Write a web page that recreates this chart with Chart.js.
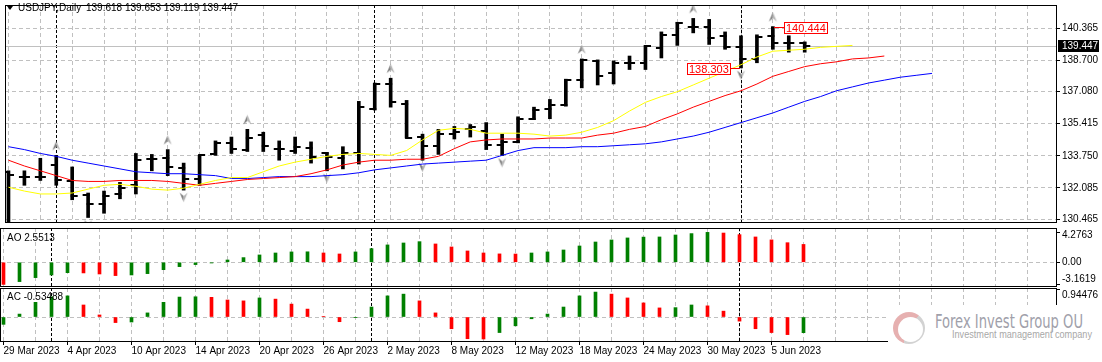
<!DOCTYPE html>
<html>
<head>
<meta charset="utf-8">
<script src="https://cdn.jsdelivr.net/npm/chart.js@4.4.0/dist/chart.umd.min.js"></script>
<style>
body { margin:0; background:#fff; width:1102px; height:362px; overflow:hidden; position:relative; font-family:"Liberation Sans", Arial, sans-serif; }
canvas { position:absolute; left:0; }
#cMain { top:0; }
#cAO { top:222px; }
#cAC { top:282px; }
.txt { position:absolute; font-size:10px; line-height:12px; color:#000; white-space:pre; }
#tri { position:absolute; left:7px; top:6px; width:0; height:0; border-left:3px solid transparent; border-right:3px solid transparent; border-top:4px solid #000; }
#wm { position:absolute; left:888px; top:305px; width:214px; height:57px; background:#fff; }
#logo { position:absolute; left:893px; top:312px; width:32px; height:32px; border-radius:50%; background:conic-gradient(from 200deg, #e6b0b0 0 55%, #d2d2d2 55% 100%); }
#logoIn { position:absolute; left:898px; top:317px; width:25px; height:25px; border-radius:50%; background:#fff; }
#wm1 { position:absolute; left:935px; top:310px; font-size:20px; line-height:23px; color:#a0a0aa; font-family:"Liberation Sans Narrow","DejaVu Sans Condensed",sans-serif; transform-origin:0 0; white-space:nowrap; }
#wm2 { position:absolute; left:952px; top:329px; font-size:10px; line-height:12px; color:#a8a8a8; transform-origin:0 0; white-space:nowrap; }
</style>
</head>
<body>
<canvas id="cMain" width="1102" height="228"></canvas>
<canvas id="cAO" width="1102" height="71"></canvas>
<canvas id="cAC" width="1102" height="80"></canvas>
<div id="tri"></div>
<div class="txt" id="ttl" style="left:18px;top:2px;">USDJPY,Daily</div>
<div class="txt" id="ttlv" style="left:86px;top:2px;"></div>
<div class="txt" id="aoLbl" style="left:7px;top:232px;"></div>
<div class="txt" id="acLbl" style="left:7px;top:291px;"></div>
<div id="wm"></div>
<div id="logo"></div>
<div id="logoIn"></div>
<div id="wm1">Forex Invest Group OU</div>
<div id="wm2">Investment management company</div>
<script>
// USDJPY daily bars, 29 Mar - 7 Jun 2023
var dates = ["29 Mar 2023","30 Mar 2023","31 Mar 2023","3 Apr 2023","4 Apr 2023","5 Apr 2023","6 Apr 2023","7 Apr 2023",
  "10 Apr 2023","11 Apr 2023","12 Apr 2023","13 Apr 2023","14 Apr 2023","17 Apr 2023","18 Apr 2023","19 Apr 2023",
  "20 Apr 2023","21 Apr 2023","24 Apr 2023","25 Apr 2023","26 Apr 2023","27 Apr 2023","28 Apr 2023","1 May 2023",
  "2 May 2023","3 May 2023","4 May 2023","5 May 2023","8 May 2023","9 May 2023","10 May 2023","11 May 2023",
  "12 May 2023","15 May 2023","16 May 2023","17 May 2023","18 May 2023","19 May 2023","22 May 2023","23 May 2023",
  "24 May 2023","25 May 2023","26 May 2023","29 May 2023","30 May 2023","31 May 2023","1 Jun 2023","2 Jun 2023",
  "5 Jun 2023","6 Jun 2023","7 Jun 2023"];

var opens = [132.92,132.67,132.67,133.27,132.42,131.72,131.27,131.77,132.22,133.57,
  133.62,133.12,132.52,133.82,134.42,134.07,134.82,134.12,134.02,134.17,
  133.87,133.62,133.87,136.17,137.47,136.42,134.72,134.27,134.87,135.12,
  135.02,134.32,134.47,135.67,136.17,136.37,137.67,138.67,138.02,138.57,
  138.57,139.32,140.02,140.42,140.42,139.97,139.37,138.77,139.97,139.57,
  139.618];
var highs = [132.97,132.97,133.62,133.77,133.17,131.82,131.92,132.37,133.87,133.82,
  134.07,133.37,133.77,134.52,134.72,135.12,134.97,134.52,134.72,134.47,
  133.92,134.22,136.57,137.52,137.77,136.62,134.87,135.12,135.27,135.37,
  135.47,134.87,135.77,136.27,136.67,137.72,138.77,138.72,138.67,138.92,
  139.47,140.17,140.67,140.87,140.82,140.17,139.97,140.02,140.444,139.97,
  139.653];
var lows = [130.20,132.22,132.47,132.22,131.47,130.55,130.77,131.52,131.77,132.97,
  132.72,131.97,132.22,133.77,133.87,133.97,133.97,133.52,133.87,133.37,
  132.97,133.07,133.32,136.12,136.27,134.67,133.52,133.82,134.62,134.72,
  134.07,133.77,134.42,135.62,135.67,136.32,137.27,137.42,137.47,138.22,
  138.22,138.82,139.47,140.12,139.52,139.27,138.303,138.57,139.27,139.12,
  139.119];
var closes = [132.77,132.67,132.67,132.47,131.67,131.27,131.67,132.07,133.52,133.57,
  133.17,132.57,133.77,134.42,134.12,134.67,134.27,134.12,134.22,133.67,
  133.67,133.87,136.27,137.47,136.52,134.67,134.27,134.87,134.97,135.22,
  134.32,134.47,135.67,136.12,136.37,137.67,138.72,137.87,138.57,138.57,
  139.42,140.02,140.62,140.42,139.87,139.37,138.77,139.92,139.57,139.57,
  139.447];

// alligator lines, already shifted forward (blue 8, red 5, yellow 3 bars)
var jaw = [134.22,134.07,133.87,133.72,133.52,133.37,133.22,133.07,132.92,132.87,
  132.82,132.82,132.77,132.72,132.57,132.57,132.62,132.67,132.67,132.67,
  132.72,132.77,132.87,133.02,133.12,133.22,133.32,133.37,133.42,133.47,
  133.52,133.77,134.02,134.17,134.17,134.17,134.22,134.22,134.27,134.32,
  134.37,134.47,134.62,134.77,134.97,135.22,135.47,135.72,135.97,136.27,
  136.57,136.82,137.12,137.32,137.52,137.67,137.82,137.92,138.02];
var teeth = [133.52,133.22,132.97,132.72,132.47,132.42,132.42,132.47,132.47,132.47,
  132.42,132.32,132.22,132.32,132.42,132.52,132.57,132.62,132.67,132.82,
  133.02,133.27,133.42,133.52,133.52,133.57,133.57,133.72,134.12,134.47,
  134.57,134.62,134.62,134.62,134.67,134.67,134.67,134.82,134.92,135.12,
  135.27,135.62,135.92,136.27,136.57,136.87,137.12,137.47,137.87,138.12,
  138.37,138.52,138.62,138.77,138.82,138.92];
var lips = [132.12,131.92,131.77,131.77,131.82,132.02,132.22,132.27,132.17,132.02,
  131.97,132.07,132.27,132.47,132.62,132.62,132.92,133.22,133.42,133.57,
  133.72,133.82,133.87,133.82,133.77,134.02,134.57,135.07,135.17,135.12,
  134.92,134.92,134.92,134.87,134.77,134.82,134.97,135.22,135.57,136.07,
  136.52,136.82,137.07,137.42,137.77,138.12,138.47,138.87,139.17,139.22,
  139.27,139.37,139.42,139.47];

var fractalUp = [3, 10, 15, 24, 36, 43, 48];
var fractalDown = [5, 11, 20, 26, 31, 46];
var markHigh = 48, markLow = 46;

var ao = [-3.1619,-2.76,-2.19,-1.81,-1.48,-1.52,-1.67,-1.90,-1.81,-1.62,
  -1.05,-0.62,-0.33,-0.10,0.33,0.67,1.05,1.33,1.48,1.50,
  1.33,1.19,1.48,1.95,2.48,2.76,2.95,2.62,2.19,1.62,
  1.33,1.20,1.18,1.33,1.48,1.76,2.33,2.90,3.19,3.48,
  3.60,3.62,3.90,4.10,4.2763,4.18,3.95,3.62,3.20,2.80,
  2.5513];
var aoPrev = -3.05;   // bar before the first visible one
var ac = [-0.25,0.10,0.50,0.69,0.72,0.41,0.07,-0.19,-0.17,0.14,
  0.50,0.68,0.69,0.67,0.58,0.55,0.65,0.61,0.44,0.27,
  0.02,-0.16,-0.01,0.34,0.72,0.78,0.55,0.14,-0.40,-0.74,
  -0.75,-0.53,-0.30,-0.06,0.10,0.34,0.72,0.85,0.78,0.65,
  0.48,0.31,0.32,0.41,0.38,0.20,-0.14,-0.40,-0.53,-0.60,
  -0.53488];
var acPrev = -0.30;

var priceTicks = [130.465, 132.085, 133.750, 135.415, 137.080, 138.700, 140.365];
var acTopTick = 0.94476;

var FONT = '"Liberation Sans", Arial, sans-serif';
Chart.defaults.font.family = FONT;
Chart.defaults.font.size = 10;
Chart.defaults.color = '#000';

var last = closes.length - 1;
var GREEN = '#008000', RED = '#ff0000', GRID = '#c0c0c0';

function pts(arr) { return arr.map(function(v, i) { return {x: i, y: v}; }); }

function monthStarts() {
  var r = [];
  for (var i = 1; i < dates.length; i++) {
    if (dates[i].split(' ')[1] !== dates[i - 1].split(' ')[1]) r.push(i);
  }
  return r;
}

function xAxis(showLabels) {
  return {
    type: 'linear', min: -0.21875, max: 65.84375, offset: false,
    afterBuildTicks: function(s) {
      var t = [];
      for (var v = 0; v <= 64; v += 2) t.push({value: v});
      s.ticks = t;
    },
    afterFit: function(s) { s.height = showLabels ? 20 : 0; s.paddingLeft = 0; s.paddingRight = 0; },
    grid: {
      color: GRID, offset: false, drawTicks: showLabels, tickLength: 3,
      tickColor: function(c) { return c.tick && c.tick.value % 4 === 0 && c.tick.value < dates.length ? '#000' : 'rgba(0,0,0,0)'; }
    },
    border: { display: false, dash: [4, 3] },
    ticks: {
      display: showLabels, autoSkip: false, maxRotation: 0, minRotation: 0, align: 'start', padding: 0,
      callback: function(v) { return (v % 4 === 0 && v < dates.length) ? dates[v] : ''; }
    }
  };
}

function yFit(s) { s.width = 45; s.paddingTop = 0; s.paddingBottom = 0; }

// pane frame + month separators
var panePlugin = {
  id: 'pane',
  beforeDatasetsDraw: function(chart) {
    var a = chart.chartArea, ctx = chart.ctx, xs = chart.scales.x;
    ctx.save();
    ctx.strokeStyle = '#000';
    ctx.lineWidth = 1;
    ctx.setLineDash([3, 2]);
    monthStarts().forEach(function(i) {
      var px = Math.floor(xs.getPixelForValue(i)) + 0.5;
      ctx.beginPath(); ctx.moveTo(px, a.top); ctx.lineTo(px, a.bottom); ctx.stroke();
    });
    ctx.restore();
  },
  afterDraw: function(chart) {
    var a = chart.chartArea, ctx = chart.ctx;
    ctx.save();
    ctx.strokeStyle = '#000';
    ctx.lineWidth = 1;
    ctx.strokeRect(a.left + 0.5, a.top + 0.5, a.right - a.left - 1, a.bottom - a.top - 1);
    ctx.restore();
  }
};

// open / close ticks
function tickImg(side) {
  var c = document.createElement('canvas');
  c.width = 15; c.height = 2;
  var g = c.getContext('2d');
  g.fillStyle = '#000';
  if (side === 'open') g.fillRect(2, 0, 7, 2); else g.fillRect(6, 0, 7, 2);
  return c;
}

// fractal arrows
function arrowImg(up) {
  var c = document.createElement('canvas');
  c.width = 11; c.height = 30;
  var g = c.getContext('2d');
  var tip, wing, notch;
  if (up) { tip = 0.5; wing = 10; notch = 6.5; } else { tip = 27; wing = 17.5; notch = 21; }
  g.fillStyle = '#7b7b7b';
  g.beginPath(); g.moveTo(5.5, tip); g.lineTo(1.5, wing); g.lineTo(5.5, notch); g.closePath(); g.fill();
  g.fillStyle = '#b4b4b4';
  g.beginPath(); g.moveTo(5.5, tip); g.lineTo(9.5, wing); g.lineTo(5.5, notch); g.closePath(); g.fill();
  return c;
}

function priceBox(ctx, text, x, y, toLeft) {
  ctx.font = '11px ' + FONT;
  var w = Math.round(ctx.measureText(text).width) + 4, h = 12;
  var bx = toLeft ? x - w : x, by = Math.round(y - h / 2);
  ctx.fillStyle = '#fff'; ctx.fillRect(bx, by, w, h);
  ctx.strokeStyle = RED; ctx.lineWidth = 1; ctx.strokeRect(bx + 0.5, by + 0.5, w - 1, h - 1);
  ctx.fillStyle = RED; ctx.textBaseline = 'middle'; ctx.textAlign = 'left';
  ctx.fillText(text, bx + 2, by + h / 2 + 0.5);
}

var pricePlugin = {
  id: 'price',
  beforeDatasetsDraw: function(chart) {
    var a = chart.chartArea, ctx = chart.ctx, ys = chart.scales.y;
    var py = Math.round(ys.getPixelForValue(closes[last])) + 0.5;
    ctx.save();
    ctx.strokeStyle = GRID; ctx.lineWidth = 1;
    ctx.beginPath(); ctx.moveTo(a.left, py); ctx.lineTo(a.right, py); ctx.stroke();
    ctx.restore();
  },
  afterDatasetsDraw: function(chart) {
    var ctx = chart.ctx, xs = chart.scales.x, ys = chart.scales.y;
    ctx.save();
    var hx = Math.round(xs.getPixelForValue(markHigh)), hy = Math.round(ys.getPixelForValue(highs[markHigh])) + 0.5;
    ctx.strokeStyle = RED; ctx.lineWidth = 1;
    ctx.beginPath(); ctx.moveTo(hx + 1, hy); ctx.lineTo(hx + 11, hy); ctx.stroke();
    priceBox(ctx, highs[markHigh].toFixed(3), hx + 11, hy, false);
    var lx = Math.round(xs.getPixelForValue(markLow)), ly = Math.round(ys.getPixelForValue(lows[markLow])) + 0.5;
    ctx.strokeStyle = RED;
    ctx.beginPath(); ctx.moveTo(lx - 1, ly); ctx.lineTo(lx - 10, ly); ctx.stroke();
    priceBox(ctx, lows[markLow].toFixed(3), lx - 10, ly, true);
    ctx.restore();
  },
  afterDraw: function(chart) {
    var a = chart.chartArea, ctx = chart.ctx, ys = chart.scales.y;
    var py = Math.round(ys.getPixelForValue(closes[last]));
    ctx.save();
    ctx.fillStyle = '#000';
    ctx.fillRect(a.right + 1, py - 6, 41, 12);
    ctx.fillStyle = '#fff';
    ctx.font = '10px ' + FONT;
    ctx.textBaseline = 'middle'; ctx.textAlign = 'left';
    ctx.fillText(closes[last].toFixed(3), a.right + 5, py + 0.5);
    ctx.restore();
  }
};

var common = {
  responsive: false, animation: false, events: [],
  plugins: { legend: { display: false }, tooltip: { enabled: false } }
};

// ---------- main price pane ----------
new Chart(document.getElementById('cMain'), {
  type: 'line',
  data: {
    datasets: [
      { data: pts(lips), borderColor: '#ffff00', borderWidth: 1, pointRadius: 0, tension: 0 },
      { data: pts(teeth), borderColor: '#ff0000', borderWidth: 1, pointRadius: 0, tension: 0 },
      { data: pts(jaw), borderColor: '#0000ff', borderWidth: 1, pointRadius: 0, tension: 0 },
      { data: fractalUp.map(function(i) { return {x: i, y: highs[i]}; }), showLine: false, pointStyle: arrowImg(true), pointRadius: 1 },
      { data: fractalDown.map(function(i) { return {x: i, y: lows[i]}; }), showLine: false, pointStyle: arrowImg(false), pointRadius: 1 },
      { data: pts(opens), showLine: false, pointStyle: tickImg('open'), pointRadius: 1 },
      { data: pts(closes), showLine: false, pointStyle: tickImg('close'), pointRadius: 1 },
      { type: 'bar', data: highs.map(function(h, i) { return {x: i, y: [lows[i], h]}; }),
        backgroundColor: '#000', borderWidth: 0, barThickness: 3, grouped: false }
    ]
  },
  options: Object.assign({}, common, {
    layout: { padding: { top: 1, bottom: 1, left: 0, right: 0 } },
    scales: {
      x: xAxis(false),
      y: {
        position: 'right', min: 130.265, max: 141.565,
        afterBuildTicks: function(s) { s.ticks = priceTicks.map(function(v) { return {value: v}; }); },
        afterFit: yFit,
        grid: { color: GRID, tickLength: 3, tickColor: '#000' },
        border: { display: false, dash: [4, 3] },
        ticks: { padding: 2, autoSkip: false, callback: function(v) { return v.toFixed(3); } }
      }
    }
  }),
  plugins: [panePlugin, pricePlugin]
});

// ---------- AO pane ----------
var aoHi = Math.max.apply(null, ao), aoLo = Math.min.apply(null, ao);
new Chart(document.getElementById('cAO'), {
  type: 'bar',
  data: {
    datasets: [{
      data: pts(ao), barThickness: 3, borderWidth: 0,
      backgroundColor: function(c) {
        var i = c.dataIndex, p = i > 0 ? ao[i - 1] : aoPrev;
        return ao[i] >= p ? GREEN : RED;
      }
    }]
  },
  options: Object.assign({}, common, {
    layout: { padding: { top: 6, bottom: 6, left: 0, right: 0 } },
    scales: {
      x: xAxis(false),
      y: {
        position: 'right', min: -3.53, max: 4.90,
        afterBuildTicks: function(s) { s.ticks = [aoLo, 0, aoHi].map(function(v) { return {value: v}; }); },
        afterFit: yFit,
        grid: { tickLength: 3, tickColor: '#000', color: function(c) { return c.tick && c.tick.value === 0 ? GRID : 'rgba(0,0,0,0)'; } },
        border: { display: false, dash: [4, 3] },
        ticks: {
          padding: 2, autoSkip: false,
          callback: function(v) {
            if (v === aoHi) return ['', v.toFixed(4)];
            if (v === aoLo) return [v.toFixed(4), ''];
            return '0.00';
          },
          font: function(c) {
            var v = c.tick && c.tick.value;
            return { family: FONT, size: 10, lineHeight: v === aoHi ? '6px' : (v === aoLo ? '11px' : 1.2) };
          }
        }
      }
    }
  }),
  plugins: [panePlugin]
});

// ---------- AC pane ----------
new Chart(document.getElementById('cAC'), {
  type: 'bar',
  data: {
    datasets: [{
      data: pts(ac), barThickness: 3, borderWidth: 0,
      backgroundColor: function(c) {
        var i = c.dataIndex, p = i > 0 ? ac[i - 1] : acPrev;
        return ac[i] >= p ? GREEN : RED;
      }
    }]
  },
  options: Object.assign({}, common, {
    layout: { padding: { top: 6, bottom: 0, left: 0, right: 0 } },
    scales: {
      x: xAxis(true),
      y: {
        position: 'right', min: -0.852, max: 0.989,
        afterBuildTicks: function(s) { s.ticks = [0, acTopTick].map(function(v) { return {value: v}; }); },
        afterFit: yFit,
        grid: { tickLength: 3, tickColor: '#000', color: function(c) { return c.tick && c.tick.value === 0 ? GRID : 'rgba(0,0,0,0)'; } },
        border: { display: false, dash: [4, 3] },
        ticks: {
          padding: 2, autoSkip: false,
          callback: function(v) { return v === acTopTick ? ['', v.toFixed(5)] : '0.00'; },
          font: function(c) {
            var v = c.tick && c.tick.value;
            return { family: FONT, size: 10, lineHeight: v === acTopTick ? '11px' : 1.2 };
          }
        }
      }
    }
  }),
  plugins: [panePlugin]
});

// texts
document.getElementById('ttlv').textContent = [opens[last], highs[last], lows[last], closes[last]].map(function(v) { return v.toFixed(3); }).join(' ');
document.getElementById('aoLbl').textContent = 'AO ' + ao[last];
document.getElementById('acLbl').textContent = 'AC ' + ac[last];

function fitWidth(id, w) {
  var el = document.getElementById(id);
  var cur = el.getBoundingClientRect().width;
  if (cur > 0) el.style.transform = 'scaleX(' + (w / cur) + ')';
}
fitWidth('wm1', 148);
fitWidth('wm2', 140);
</script>
</body>
</html>
